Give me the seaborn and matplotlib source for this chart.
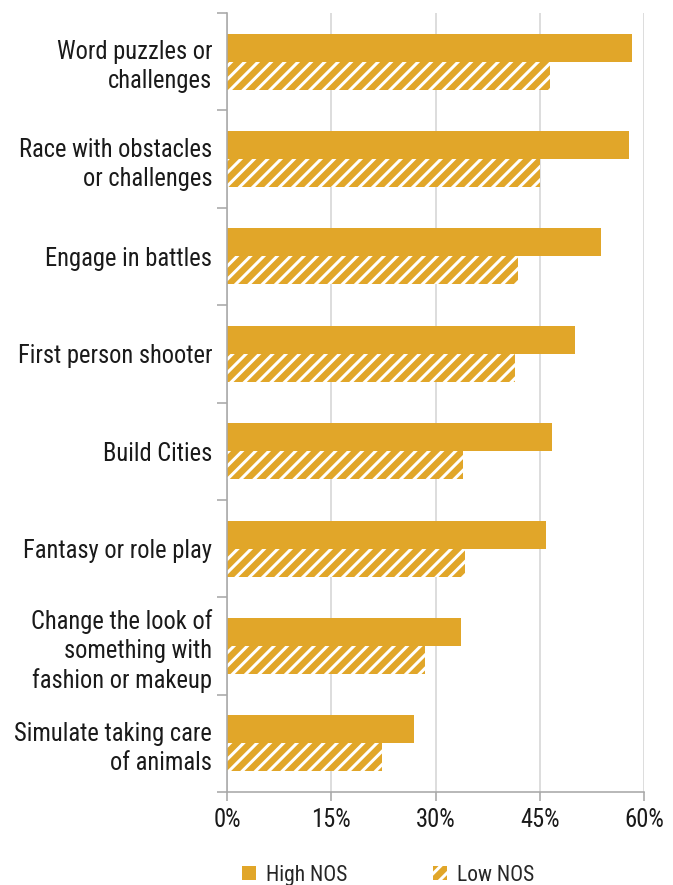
import matplotlib
matplotlib.use("Agg")
import matplotlib.pyplot as plt
from matplotlib import font_manager
import seaborn as sns
import pandas as pd
from matplotlib.patches import Patch
from matplotlib.ticker import FixedLocator, PercentFormatter

categories = [
    "Word puzzles or\nchallenges",
    "Race with obstacles\nor challenges",
    "Engage in battles",
    "First person shooter",
    "Build Cities",
    "Fantasy or role play",
    "Change the look of\nsomething with\nfashion or makeup",
    "Simulate taking care\nof animals",
]
high_nos = [58.2, 57.8, 53.8, 50.1, 46.8, 45.9, 33.7, 26.9]
low_nos = [46.4, 45.0, 41.9, 41.4, 34.0, 34.2, 28.5, 22.3]
series = ["High NOS", "Low NOS"]
xticks = [0, 15, 30, 45, 60]

GOLD = "#E1A629"
AXC = "#A8A8A8"
DPI = 80


def pt(px):
    return px * 72.0 / DPI


df = pd.DataFrame({
    "category": categories * 2,
    "value": high_nos + low_nos,
    "group": [series[0]] * len(categories) + [series[1]] * len(categories),
})

sns.set_style("white")
avail = {f.name for f in font_manager.fontManager.ttflist}
fam = [f for f in ["Roboto Condensed", "Liberation Sans Narrow", "Lato", "Roboto"] if f in avail]
plt.rcParams["font.family"] = fam + ["DejaVu Sans"]
plt.rcParams["hatch.linewidth"] = pt(3.0)

fig = plt.figure(figsize=(673 / DPI, 885 / DPI), dpi=DPI)
ax = fig.add_axes([227 / 673, 1 - 792 / 885, (644.3 - 227) / 673, (792 - 13) / 885])

sns.barplot(data=df, x="value", y="category", hue="group", order=categories,
            hue_order=series, palette=[GOLD, GOLD], width=0.575, gap=0,
            orient="h", ax=ax, legend=False, saturation=1)

for p in ax.containers[1]:
    p.set_facecolor(GOLD)
    p.set_edgecolor("white")
    p.set_hatch("//")
    p.set_linewidth(0)
for p in ax.containers[0]:
    p.set_linewidth(0)

ax.set_xlim(0, 60)
ax.set_ylim(len(categories) - 0.5, -0.5)
ax.set_xticks(xticks)
ax.xaxis.set_major_formatter(PercentFormatter(decimals=0))
ax.set_xlabel("")
ax.set_ylabel("")

ax.grid(axis="x", color="#D3D3D3", linewidth=pt(1.5))
ax.set_axisbelow(True)

for s in ["top", "right"]:
    ax.spines[s].set_visible(False)
for s in ["left", "bottom"]:
    ax.spines[s].set_color(AXC)
    ax.spines[s].set_linewidth(pt(1.6))

FS = pt(24.5)
ax.tick_params(axis="y", which="major", left=False, length=0, pad=pt(15), labelsize=FS,
               labelcolor="#1a1a1a")
ax.yaxis.set_minor_locator(FixedLocator([i - 0.5 for i in range(len(categories) + 1)]))
ax.tick_params(axis="y", which="minor", left=True, length=pt(10), width=pt(1.6), color=AXC,
               direction="out")
ax.tick_params(axis="x", which="major", bottom=True, length=pt(9), width=pt(1.6), color=AXC,
               direction="out", labelsize=FS, labelcolor="#1a1a1a", pad=pt(7))
for t in ax.get_yticklabels():
    t.set_linespacing(1.27)
    t.set_multialignment("right")

handles = [
    Patch(facecolor=GOLD, edgecolor=GOLD, linewidth=0, label=series[0]),
    Patch(facecolor=GOLD, edgecolor="white", hatch="//", linewidth=0, label=series[1]),
]
fig.legend(handles=handles, loc="center", bbox_to_anchor=(0.577, 0.011), ncol=2,
           frameon=False, fontsize=pt(21.5), handlelength=0.65, handleheight=0.65,
           handletextpad=0.45, columnspacing=4.0, borderaxespad=0)

fig.savefig("out.png", dpi=DPI)
